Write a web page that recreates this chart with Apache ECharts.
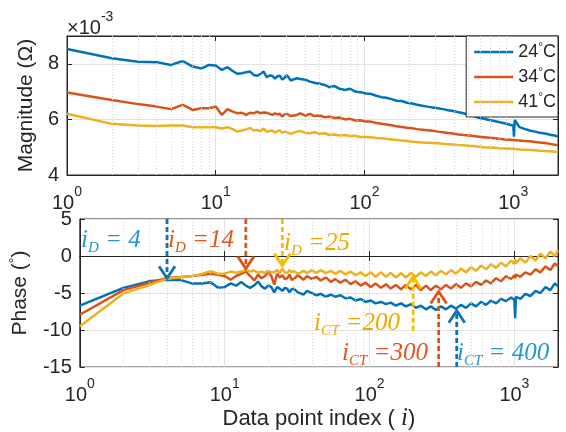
<!DOCTYPE html>
<html>
<head>
<meta charset="utf-8">
<script src="https://cdn.jsdelivr.net/npm/echarts@6/dist/echarts.min.js"></script>
<style>
  html, body { margin: 0; padding: 0; background: #fff; }
  #chart { width: 566px; height: 432px; }
</style>
</head>
<body>
<div id="chart"></div>
<script>
  // data point indices (shared by all curves)
  var idx = [1, 2, 3, 4, 5, 6, 7, 8, 9, 10, 11, 12, 13, 14, 15, 16, 17, 18, 19, 20,
    21, 22, 23, 24, 25, 26, 27, 28, 29, 30,
    32, 35, 37, 40, 43, 46, 50, 54, 58, 63,
    68, 74, 80, 87, 94, 102, 110, 120, 130, 140,
    152, 165, 178, 193, 209, 226, 245, 265, 287, 311,
    337, 365, 395, 428, 463, 502, 543, 588, 637, 690,
    747, 809, 876, 949, 1000, 1012, 1024, 1100, 1190, 1290,
    1400, 1510, 1640, 1770, 1900, 2000];

  var names = ['24°C', '34°C', '41°C'];

  // magnitude, x1e-3 ohm
  var magBlue = [8.53, 8.20, 8.07, 8.06, 7.96, 8.10, 7.90, 7.83, 7.96, 7.94, 7.78, 7.88, 7.74, 7.64, 7.66, 7.70, 7.72, 7.60, 7.57, 7.64,
    7.72, 7.52, 7.58, 7.57, 7.47, 7.55, 7.57, 7.43, 7.50, 7.60,
    7.40, 7.48, 7.45, 7.43, 7.36, 7.32, 7.28, 7.24, 7.16, 7.20,
    7.10, 7.06, 7.10, 7.00, 6.98, 6.93, 6.92, 6.85, 6.80, 6.78,
    6.73, 6.67, 6.66, 6.60, 6.57, 6.53, 6.49, 6.46, 6.43, 6.40,
    6.37, 6.33, 6.30, 6.26, 6.22, 6.17, 6.12, 6.06, 6.02, 5.98,
    5.94, 5.90, 5.86, 5.81, 5.78, 5.38, 5.98, 5.72, 5.66, 5.60,
    5.56, 5.52, 5.49, 5.45, 5.42, 5.38];
  var magOrange = [6.97, 6.70, 6.55, 6.46, 6.37, 6.52, 6.34, 6.40, 6.40, 6.46, 6.16, 6.37, 6.28, 6.22, 6.24, 6.16, 6.24, 6.22, 6.28, 6.22,
    6.25, 6.24, 6.20, 6.16, 6.22, 6.18, 6.20, 6.10, 6.18, 6.20,
    6.12, 6.16, 6.22, 6.14, 6.20, 6.12, 6.14, 6.08, 6.10, 6.05,
    6.07, 6.00, 6.02, 5.96, 5.97, 5.92, 5.92, 5.87, 5.84, 5.82,
    5.79, 5.75, 5.73, 5.70, 5.68, 5.65, 5.63, 5.61, 5.59, 5.56,
    5.54, 5.51, 5.49, 5.46, 5.44, 5.42, 5.40, 5.38, 5.36, 5.34,
    5.32, 5.30, 5.28, 5.27, 5.26, 5.23, 5.26, 5.24, 5.22, 5.21,
    5.19, 5.17, 5.15, 5.12, 5.09, 5.07];
  var magYellow = [6.20, 5.84, 5.78, 5.76, 5.78, 5.78, 5.72, 5.72, 5.72, 5.72, 5.67, 5.72, 5.65, 5.56, 5.60, 5.64, 5.69, 5.60, 5.62, 5.58,
    5.67, 5.55, 5.58, 5.60, 5.52, 5.58, 5.60, 5.52, 5.56, 5.54,
    5.48, 5.56, 5.58, 5.52, 5.50, 5.54, 5.48, 5.50, 5.44, 5.46,
    5.42, 5.44, 5.40, 5.41, 5.37, 5.37, 5.36, 5.33, 5.32, 5.30,
    5.28, 5.26, 5.24, 5.22, 5.20, 5.19, 5.17, 5.16, 5.15, 5.14,
    5.12, 5.11, 5.10, 5.08, 5.07, 5.05, 5.04, 5.02, 5.00, 4.99,
    4.98, 4.96, 4.95, 4.94, 4.94, 4.92, 4.94, 4.92, 4.91, 4.90,
    4.89, 4.87, 4.86, 4.85, 4.84, 4.84];

  // phase, degrees
  var phBlue = [-6.69, -4.30, -3.42, -3.20, -3.25, -3.72, -3.72, -3.55, -4.30, -4.20, -3.70, -4.00, -3.50, -4.00, -4.30, -3.95, -3.45, -4.10, -4.40, -3.95,
    -4.20, -4.90, -4.20, -4.40, -4.70, -4.30, -4.40, -4.90, -4.50, -4.40,
    -4.9, -5.2, -4.7, -5.0, -5.3, -5.1, -5.5, -5.2, -5.5, -5.3,
    -5.7, -5.6, -6.0, -5.8, -6.2, -6.0, -6.4, -6.2, -6.5, -6.3,
    -6.7, -6.4, -6.8, -6.5, -7.0, -6.7, -7.2, -6.8, -7.3, -6.8,
    -7.2, -6.7, -7.1, -6.6, -7.0, -6.4, -6.8, -6.2, -6.6, -6.0,
    -6.4, -5.8, -6.1, -5.6, -5.9, -8.4, -5.5, -5.8, -5.1, -5.4,
    -4.7, -5.0, -4.2, -4.6, -3.7, -4.1];
  var phOrange = [-7.93, -4.60, -3.64, -2.97, -2.84, -2.70, -2.53, -2.40, -2.53, -2.70, -3.20, -2.70, -2.40, -2.09, -2.70, -3.30, -2.53, -3.00, -2.70, -2.20,
    -2.70, -3.86, -2.40, -2.90, -2.60, -3.10, -3.00, -2.50, -3.20, -3.10,
    -2.6, -3.2, -2.7, -3.1, -2.8, -3.3, -2.9, -3.5, -3.1, -3.6,
    -3.2, -3.8, -3.4, -4.0, -3.6, -4.2, -3.7, -4.3, -3.8, -4.4,
    -3.9, -4.5, -3.9, -4.5, -3.9, -4.6, -4.0, -4.6, -4.0, -4.5,
    -3.9, -4.4, -3.8, -4.3, -3.7, -4.1, -3.5, -3.9, -3.3, -3.7,
    -3.0, -3.4, -2.7, -3.1, -2.6, -3.0, -2.5, -2.8, -2.2, -2.5,
    -1.8, -2.2, -1.4, -1.9, -1.0, -1.4];
  var phYellow = [-9.48, -5.05, -3.95, -3.06, -2.88, -2.70, -2.40, -2.04, -2.40, -2.40, -2.10, -2.25, -2.10, -1.90, -2.10, -1.95, -2.25, -2.10, -2.30, -1.95,
    -2.20, -2.20, -1.90, -2.30, -1.73, -2.20, -2.30, -1.90, -2.20, -2.00,
    -2.4, -2.0, -2.3, -1.9, -2.3, -1.9, -2.3, -2.0, -2.4, -2.0,
    -2.5, -2.1, -2.6, -2.2, -2.7, -2.2, -2.8, -2.2, -2.8, -2.3,
    -2.9, -2.3, -2.9, -2.3, -2.8, -2.2, -2.7, -2.1, -2.6, -2.0,
    -2.5, -1.9, -2.4, -1.7, -2.2, -1.5, -2.0, -1.3, -1.8, -1.1,
    -1.6, -0.9, -1.4, -0.6, -1.1, -0.4, -1.0, -0.3, -0.9, 0.0,
    -0.6, 0.3, -0.3, 0.6, 0.0, 0.8];

  // annotation arrows on the phase plot
  var arrowIdx = [4, 14, 25, 200, 300, 400];
  var arrowTip = [-3.0, -1.7, -1.3, -2.8, -4.8, -7.4];
  var arrowTail = [5, 5, 5, -10.1, -15, -15];
  var arrowSub = ['D', 'D', 'D', 'CT', 'CT', 'CT'];
  var arrowText = [' = 4', ' =14', ' =25', ' =200', ' =300', ' = 400'];

  // minor grid positions of the log axis
  var minorX = [2, 3, 4, 5, 6, 7, 8, 9, 20, 30, 40, 50, 60, 70, 80, 90, 200, 300, 400, 500, 600, 700, 800, 900];

  var lineColors = ['#0072BD', '#D95319', '#EDB120'];
  var arrowColors = ['#0a72b5', '#dd5418', '#f5bd00', '#f5bd00', '#dd5418', '#0a72b5'];
  var textColors = ['#2396d3', '#e0561c', '#f2a700', '#f2a700', '#e0561c', '#2396d3'];
  var labelPos = [[81, 240], [168, 240], [284, 243], [314, 323], [342, 353], [457, 353]];

  var sans = 'Liberation Sans, Arial, Helvetica, sans-serif';
  var serif = 'Liberation Serif, Times New Roman, serif';
  var ink = '#262626';

  function pairs(arr) {
    return idx.map(function (x, k) { return [x, arr[k]]; });
  }

  function powLabel(v) {
    var e = Math.log10(v);
    if (Math.abs(e - Math.round(e)) > 1e-6) return '';
    return '{b|10}{s|' + Math.round(e) + '}';
  }

  var powRich = {
    b: { fontSize: 20, fontFamily: sans, color: ink, lineHeight: 28, verticalAlign: 'bottom' },
    s: { fontSize: 14, fontFamily: sans, color: ink, lineHeight: 14, verticalAlign: 'top' }
  };

  function xAxisMain(grid) {
    return {
      type: 'log', logBase: 10, gridIndex: grid, min: 1, max: 2000,
      axisLine: { show: true, lineStyle: { color: ink, width: 1 } },
      axisTick: { inside: true, length: 5, lineStyle: { color: ink } },
      axisLabel: { formatter: powLabel, rich: powRich, margin: 10, showMaxLabel: false },
      splitLine: { show: true, lineStyle: { color: '#e3e3e3', width: 1 } }
    };
  }
  function xAxisTop(grid) {
    return {
      type: 'log', logBase: 10, gridIndex: grid, min: 1, max: 2000, position: 'top',
      axisLine: { show: true, lineStyle: { color: ink, width: 1 } },
      axisTick: { inside: true, length: 5, lineStyle: { color: ink } },
      axisLabel: { show: false }, splitLine: { show: false }
    };
  }
  function yAxisRight(grid, mn, mx, step) {
    return {
      type: 'value', gridIndex: grid, min: mn, max: mx, interval: step, position: 'right',
      axisLine: { show: true, lineStyle: { color: ink, width: 1 } },
      axisTick: { show: true, inside: true, length: 5, lineStyle: { color: ink } },
      axisLabel: { show: false }, splitLine: { show: false }
    };
  }

  var yLabelStyle = { fontSize: 20, fontFamily: sans, color: ink, margin: 8 };

  var series = [];
  var magData = [magBlue, magOrange, magYellow];
  var phData = [phBlue, phOrange, phYellow];

  // minor grid lines (dotted) under the curves
  [0, 1].forEach(function (g) {
    series.push({
      type: 'line', xAxisIndex: g, yAxisIndex: g, data: [], silent: true, z: 1,
      markLine: {
        silent: true, symbol: 'none', label: { show: false },
        lineStyle: { color: '#d4d4d4', type: [1, 2], width: 1 },
        data: minorX.map(function (v) { return { xAxis: v }; })
      }
    });
  });

  for (var s = 0; s < 3; s++) {
    series.push({
      name: names[s], type: 'line', xAxisIndex: 0, yAxisIndex: 0,
      data: pairs(magData[s]), symbol: 'none', z: 3,
      lineStyle: { color: lineColors[s], width: 2.5 }, itemStyle: { color: lineColors[s] }
    });
  }
  for (var s2 = 0; s2 < 3; s2++) {
    series.push({
      name: names[s2], type: 'line', xAxisIndex: 1, yAxisIndex: 1,
      data: pairs(phData[s2]), symbol: 'none', z: 3,
      lineStyle: { color: lineColors[s2], width: 2.5 }, itemStyle: { color: lineColors[s2] }
    });
  }

  // dashed arrows
  series.push({
    type: 'custom', xAxisIndex: 1, yAxisIndex: 1, z: 5, clip: false, silent: true,
    data: arrowIdx.map(function (x, k) { return [x, arrowTip[k], arrowTail[k]]; }),
    encode: { x: 0, y: [1, 2] },
    renderItem: function (params, api) {
      var col = arrowColors[params.dataIndex];
      var tip = api.coord([api.value(0), api.value(1)]);
      var tail = api.coord([api.value(0), api.value(2)]);
      var d = tail[1] < tip[1] ? 1 : -1;
      return {
        type: 'group',
        children: [
          { type: 'line', shape: { x1: tail[0], y1: tail[1], x2: tip[0], y2: tip[1] },
            style: { stroke: col, lineWidth: 2.8, lineDash: [5, 3] } },
          { type: 'polyline', shape: { points: [[tip[0] - 8, tip[1] - d * 12], [tip[0], tip[1]], [tip[0] + 8, tip[1] - d * 12]] },
            style: { stroke: col, lineWidth: 2.8, fill: null } }
        ]
      };
    }
  });

  var graphics = [{
    type: 'text', left: 67, top: 10,
    style: {
      text: '{m|×}{b|10}{s|-3}', fill: ink,
      rich: {
        m: { fontSize: 20, fontFamily: sans, fill: ink, lineHeight: 28, verticalAlign: 'bottom' },
        b: { fontSize: 20, fontFamily: sans, fill: ink, lineHeight: 28, verticalAlign: 'bottom' },
        s: { fontSize: 14, fontFamily: sans, fill: ink, lineHeight: 14, verticalAlign: 'top' }
      }
    }
  }];
  arrowIdx.forEach(function (x, k) {
    graphics.push({
      type: 'text', x: labelPos[k][0], y: labelPos[k][1], z: 10,
      style: {
        text: '{i|i}{d|' + arrowSub[k] + '}{t|' + arrowText[k] + '}',
        verticalAlign: 'middle',
        rich: {
          i: { fontSize: 25, fontFamily: serif, fontStyle: 'italic', fill: textColors[k], lineHeight: 32, verticalAlign: 'middle' },
          d: { fontSize: 15, fontFamily: serif, fontStyle: 'italic', fill: textColors[k], lineHeight: 15, verticalAlign: 'bottom' },
          t: { fontSize: 25, fontFamily: serif, fontStyle: 'italic', fill: textColors[k], lineHeight: 32, verticalAlign: 'middle' }
        }
      }
    });
  });

  var option = {
    animation: false,
    backgroundColor: '#fff',
    grid: [
      { left: 67, right: 8, top: 36, height: 139, show: true, borderColor: ink, borderWidth: 1 },
      { left: 67, right: 8, top: 219, height: 152, show: true, borderColor: ink, borderWidth: 1 }
    ],
    legend: {
      data: names, orient: 'vertical', right: 8, top: 36,
      backgroundColor: '#fff', borderColor: ink, borderWidth: 1,
      padding: [6, 2, 5, 8], itemGap: 5, itemWidth: 39, itemHeight: 2.5,
      icon: 'rect',
      formatter: function (n) { return n.replace('°', '{s|°}'); },
      textStyle: {
        fontSize: 18, fontFamily: sans, color: ink, lineHeight: 20,
        rich: {
          s: { fontSize: 12, fontFamily: sans, color: ink, lineHeight: 12, verticalAlign: 'top' }
        }
      }
    },
    xAxis: [xAxisMain(0), xAxisMain(1), xAxisTop(0), xAxisTop(1)],
    yAxis: [
      {
        type: 'value', gridIndex: 0, min: 4, max: 9, interval: 2,
        name: 'Magnitude (Ω)', nameLocation: 'middle', nameGap: 29,
        nameTextStyle: { fontSize: 21, fontFamily: sans, color: ink },
        axisLine: { show: true, lineStyle: { color: ink } },
        axisTick: { show: true, inside: true, length: 5, lineStyle: { color: ink } },
        axisLabel: Object.assign({ showMaxLabel: false }, yLabelStyle),
        splitLine: { show: true, lineStyle: { color: '#e3e3e3' } }
      },
      {
        type: 'value', gridIndex: 1, min: -15, max: 5, interval: 5,
        name: 'Phase ({s|°})', nameLocation: 'middle', nameGap: 29,
        nameTextStyle: {
          fontSize: 21, fontFamily: sans, color: ink, lineHeight: 24,
          rich: { s: { fontSize: 14, fontFamily: sans, color: ink, lineHeight: 14, verticalAlign: 'top' } }
        },
        axisLine: { show: true, lineStyle: { color: ink } },
        axisTick: { show: true, inside: true, length: 5, lineStyle: { color: ink } },
        axisLabel: yLabelStyle,
        splitLine: { show: true, lineStyle: { color: '#e3e3e3' } }
      },
      yAxisRight(0, 4, 9, 2),
      yAxisRight(1, -15, 5, 5)
    ],
    graphic: graphics,
    series: series
  };
  // x axis name on the lower plot
  option.xAxis[1].name = 'Data point index ( {i|i})';
  option.xAxis[1].nameLocation = 'middle';
  option.xAxis[1].nameGap = 38;
  option.xAxis[1].nameTextStyle = {
    fontSize: 22, fontFamily: sans, color: ink,
    rich: { i: { fontSize: 25, fontFamily: serif, fontStyle: 'italic', color: ink } }
  };

  var myChart = echarts.init(document.getElementById('chart'));
  myChart.setOption(option);
</script>
</body>
</html>
